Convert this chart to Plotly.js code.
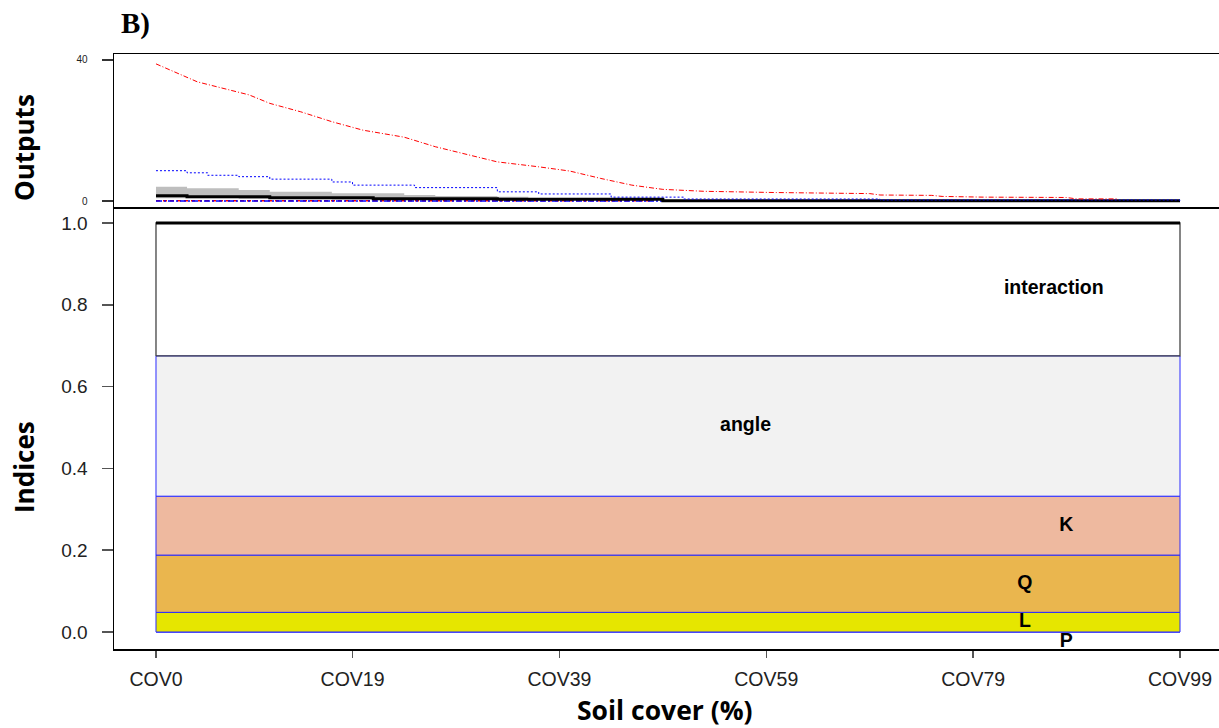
<!DOCTYPE html>
<html>
<head>
<meta charset="utf-8">
<script src="https://cdn.plot.ly/plotly-3.0.1.min.js"></script>
<style>html,body{margin:0;padding:0;background:#fff}#chart{width:1219px;height:728px}</style>
</head>
<body>
<div id="chart"></div>
<script>
// ---- Axis categories (soil cover scenarios) ----
const tickPositions = [0, 19, 39, 59, 79, 99];
const tickLabels = ["COV0", "COV19", "COV39", "COV59", "COV79", "COV99"];

// ---- Top panel: model outputs ----
const redX = [0, 4, 9, 11, 14, 17, 20, 24, 27, 30, 33, 37, 40, 43, 46, 49, 53, 60, 69, 70, 75, 76, 80, 88, 89, 93];
const redY = [38.9, 33.8, 30.1, 27.7, 25.3, 22.5, 20.1, 18.1, 15.4, 13.3, 11.1, 9.7, 8.5, 6.4, 4.5, 3.3, 2.75, 2.4, 2.1, 1.7, 1.6, 1.3, 1.1, 1.0, 0.6, 0.6];

const blueX = [0, 3, 5, 8, 11, 17, 19, 25, 33, 37, 44, 51, 70, 99];
const blueY = [8.6, 8.0, 7.3, 6.9, 6.2, 5.4, 4.5, 3.8, 2.6, 2.0, 1.1, 0.57, 0.3, 0.15];

const grayX = [0, 3, 8, 11, 17, 24, 27, 33, 36];
const grayHi = [4.06, 3.6, 3.1, 2.6, 2.2, 1.7, 1.4, 1.2, 1.2];
const grayLo = [0.8, 0.8, 0.6, 0.6, 0.4, 0.4, 0.3, 0.3, 0.3];

const blackX = [0, 3, 11, 21, 33, 49, 99];
const blackY = [1.5, 1.2, 0.94, 0.66, 0.47, 0.1, 0.1];

const redLowX = [0, 48];
const redLowY = [0.1, 0.1];
const blueLowX = [0, 99];
const blueLowY = [0.0, 0.0];

// ---- Bottom panel: sensitivity indices (constant over soil cover) ----
const indexNames = ["P", "L", "Q", "K", "angle"];
const firstOrder = [0.0, 0.048, 0.140, 0.144, 0.343];
const interactionName = "interaction";
const interactionValue = 0.325;
const indexColors = ["#63C600", "#E6E600", "#EAB64E", "#EEB99F", "#F2F2F2"];
const labelX = [88, 84, 84, 88, 57];
const interactionLabelX = 86.8;

// ---- Build traces ----
const xFirst = tickPositions[0], xLast = tickPositions[tickPositions.length - 1];
const labelFont = {family: 'Liberation Sans, Arial', size: 19.5, weight: 'bold', color: 'black'};
const traces = [];

// top panel
traces.push({x: grayX, y: grayLo, xaxis: 'x2', yaxis: 'y2', mode: 'lines', line: {width: 0, shape: 'hv'}, hoverinfo: 'skip', showlegend: false});
traces.push({x: grayX, y: grayHi, xaxis: 'x2', yaxis: 'y2', mode: 'lines', fill: 'tonexty', fillcolor: '#bebebe', line: {width: 0, shape: 'hv', color: '#bebebe'}, showlegend: false});
traces.push({x: redLowX, y: redLowY, xaxis: 'x2', yaxis: 'y2', mode: 'lines', line: {color: 'red', width: 1.5, dash: '4px,3px'}, showlegend: false});
traces.push({x: blueLowX, y: blueLowY, xaxis: 'x2', yaxis: 'y2', mode: 'lines', line: {color: 'blue', width: 1.5, dash: '6px,2px,2px,2px'}, showlegend: false});
traces.push({x: blackX, y: blackY, xaxis: 'x2', yaxis: 'y2', mode: 'lines', line: {color: 'black', width: 3, shape: 'hv'}, showlegend: false});
traces.push({x: blueX, y: blueY, xaxis: 'x2', yaxis: 'y2', mode: 'lines', line: {color: 'blue', width: 1, dash: '2px,2px', shape: 'hv'}, showlegend: false});
traces.push({x: redX, y: redY, xaxis: 'x2', yaxis: 'y2', mode: 'lines', line: {color: 'red', width: 1, dash: '5px,2px,1px,2px'}, showlegend: false});

// bottom panel stacked bands
let cum = 0;
const mids = [];
for (let k = 0; k < indexNames.length; k++) {
  const lo = cum, hi = cum + firstOrder[k];
  mids.push((lo + hi) / 2);
  traces.push({
    x: [xFirst, xLast, xLast, xFirst, xFirst],
    y: [lo, lo, hi, hi, lo],
    mode: 'lines', fill: 'toself', fillcolor: indexColors[k],
    line: {color: '#2b2bff', width: 1}, hoverinfo: 'skip', showlegend: false
  });
  if (k === 0) {
    // P label drawn before the L band so that it sits partly underneath it
    traces.push({x: [labelX[0]], y: [mids[0]], mode: 'text', text: [indexNames[0]],
      textposition: 'bottom center', textfont: labelFont, showlegend: false});
  }
  cum = hi;
}
const intLo = cum, intHi = cum + interactionValue;
traces.push({
  x: [xFirst, xLast, xLast, xFirst, xFirst],
  y: [intLo, intLo, intHi, intHi, intLo],
  mode: 'lines', fill: 'toself', fillcolor: 'rgba(255,255,255,0)',
  line: {color: '#444444', width: 1.3}, hoverinfo: 'skip', showlegend: false
});
traces.push({x: [xFirst, xLast], y: [intHi, intHi], mode: 'lines', line: {color: 'black', width: 3}, showlegend: false});

traces.push({
  x: labelX.slice(1).concat([interactionLabelX]),
  y: mids.slice(1).concat([(intLo + intHi) / 2]),
  text: indexNames.slice(1).concat([interactionName]),
  mode: 'text', textposition: 'middle center',
  textfont: labelFont,
  showlegend: false
});

// ---- Layout ----
const W = 1219, H = 728;
const px = v => v / W, py = v => 1 - v / H;
const xRange = [-4.06, 102.77];

const layout = {
  width: W, height: H,
  margin: {l: 0, r: 0, t: 0, b: 0},
  paper_bgcolor: 'white', plot_bgcolor: 'white',
  showlegend: false,
  xaxis: {
    domain: [px(114), 1], anchor: 'y', range: xRange,
    tickmode: 'array', tickvals: tickPositions, ticktext: tickLabels,
    ticks: 'outside', ticklen: 7, tickwidth: 1.5, tickcolor: '#555',
    showline: true, linecolor: 'black', linewidth: 1.5,
    showgrid: false, zeroline: false,
    tickfont: {family: 'Liberation Sans, Arial', size: 19.5, color: '#222'},
    ticklabelstandoff: 5
  },
  xaxis2: {
    domain: [px(114), 1], anchor: 'y2', matches: 'x', range: xRange,
    showticklabels: false, ticks: '', showgrid: false, zeroline: false,
    showline: true, mirror: true, linecolor: 'black', linewidth: 1.5
  },
  yaxis: {
    domain: [py(649), py(207)], anchor: 'x', range: [-0.0416, 1.0391],
    tickmode: 'array', tickvals: [0, 0.2, 0.4, 0.6, 0.8, 1.0],
    ticktext: ['0.0', '0.2', '0.4', '0.6', '0.8', '1.0'],
    ticks: 'outside', ticklen: 11, tickwidth: 1.5, tickcolor: '#555',
    showline: true, linecolor: 'black', linewidth: 1.5,
    showgrid: false, zeroline: false,
    tickfont: {family: 'Liberation Sans, Arial', size: 19, color: '#222'},
    ticklabelstandoff: 10
  },
  yaxis2: {
    domain: [py(207), py(54)], anchor: 'x2', range: [-1.70, 41.70],
    tickmode: 'array', tickvals: [0, 40], ticktext: ['0', '40'],
    ticks: 'outside', ticklen: 11, tickwidth: 1.5, tickcolor: '#333',
    showline: true, linecolor: 'black', linewidth: 1.5,
    showgrid: false, zeroline: false,
    tickfont: {family: 'Liberation Sans, Arial', size: 10, color: '#222'},
    ticklabelstandoff: 12
  },
  annotations: [
    {text: 'B)', xref: 'paper', yref: 'paper', x: px(135), y: py(24), showarrow: false,
      xanchor: 'center', yanchor: 'middle',
      font: {family: 'Liberation Serif, Times New Roman', size: 29, weight: 'bold', color: 'black'}},
    {text: 'Outputs', xref: 'paper', yref: 'paper', x: px(24), y: py(148), showarrow: false,
      textangle: -90, xanchor: 'center', yanchor: 'middle',
      font: {family: 'Open Sans', size: 26, weight: 'bold', color: 'black'}},
    {text: 'Indices', xref: 'paper', yref: 'paper', x: px(24), y: py(467), showarrow: false,
      textangle: -90, xanchor: 'center', yanchor: 'middle',
      font: {family: 'Open Sans', size: 26, weight: 'bold', color: 'black'}},
    {text: 'Soil cover (%)', xref: 'paper', yref: 'paper', x: px(665), y: py(710), showarrow: false,
      xanchor: 'center', yanchor: 'middle',
      font: {family: 'Open Sans', size: 26.5, weight: 'bold', color: 'black'}}
  ]
};

Plotly.newPlot('chart', traces, layout, {displayModeBar: false, staticPlot: true});
</script>
</body>
</html>
